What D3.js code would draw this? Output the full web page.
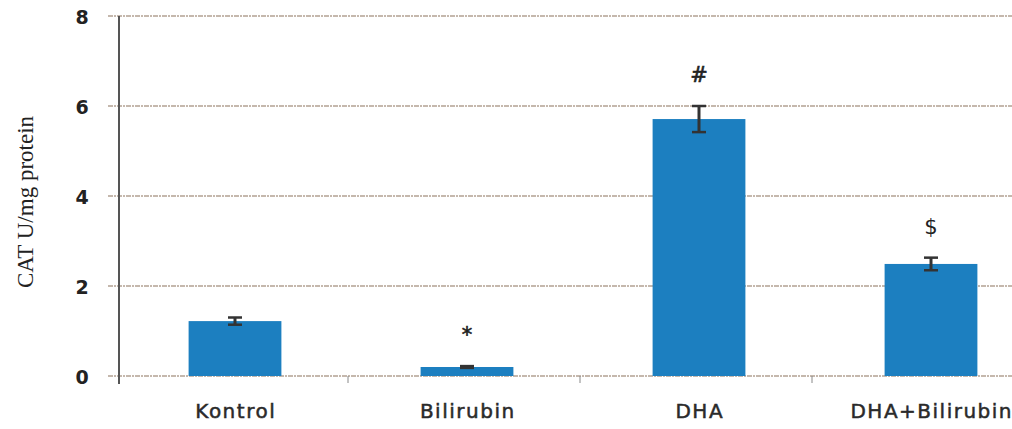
<!DOCTYPE html>
<html>
<head>
<meta charset="utf-8">
<script src="https://cdn.jsdelivr.net/npm/d3@7"></script>
<style>
  body { margin: 0; background: #fff; }
  svg { display: block; }
</style>
</head>
<body>
<svg id="chart" width="1012" height="429"></svg>
<script>
// values
const categories = ["Kontrol", "Bilirubin", "DHA", "DHA+Bilirubin"]
const means = [1.22, 0.2, 5.71, 2.49]
const errors = [0.08, 0.02, 0.29, 0.14]
const marks = ["", "*", "#", "$"]
const yTicks = [0, 2, 4, 6, 8]

const svg = d3.select("#chart")
const plotLeft = 119, plotTop = 16, plotBottom = 376
const step = 232

const x = d3.scaleBand()
    .domain(categories)
    .range([plotLeft, plotLeft + step * categories.length])
    .paddingInner(0.6)
    .paddingOuter(0.3)

const y = d3.scaleLinear().domain([0, 8]).range([plotBottom, plotTop])

// horizontal gridlines
svg.append("g")
    .selectAll("line")
    .data(yTicks)
    .join("line")
    .attr("x1", plotLeft - 11)
    .attr("x2", 1012)
    .attr("y1", d => y(d))
    .attr("y2", d => y(d))
    .attr("stroke", "#b3a193")
    .attr("stroke-width", 1.3)
    .attr("stroke-dasharray", "5,1,2,1")

// y tick labels
svg.append("g")
    .selectAll("text")
    .data(yTicks)
    .join("text")
    .attr("x", 82)
    .attr("y", d => y(d) + 8)
    .attr("text-anchor", "middle")
    .style("font-family", "'DejaVu Sans', sans-serif")
    .style("font-weight", "bold")
    .style("font-size", "19px")
    .style("fill", "#222")
    .text(d => d)

// y axis line
svg.append("line")
    .attr("x1", plotLeft).attr("x2", plotLeft)
    .attr("y1", plotTop).attr("y2", plotBottom + 8)
    .attr("stroke", "#555")
    .attr("stroke-width", 2)

// small ticks between categories on the x axis
svg.append("g")
    .selectAll("line")
    .data(categories.slice(1))
    .join("line")
    .attr("x1", d => x(d) - x.step() * x.paddingInner() / 2 - 3)
    .attr("x2", d => x(d) - x.step() * x.paddingInner() / 2 - 3)
    .attr("y1", plotBottom)
    .attr("y2", plotBottom + 7)
    .attr("stroke", "#888")
    .attr("stroke-width", 1)

// bars
svg.append("g")
    .selectAll("rect")
    .data(categories)
    .join("rect")
    .attr("x", d => x(d))
    .attr("width", x.bandwidth())
    .attr("y", (d, i) => y(means[i]))
    .attr("height", (d, i) => y(0) - y(means[i]))
    .attr("fill", "#1c7fc0")

// error bars
const eb = svg.append("g")
    .selectAll("g")
    .data(categories)
    .join("g")
    .attr("transform", d => "translate(" + (x(d) + x.bandwidth() / 2) + ",0)")
eb.append("line")
    .attr("y1", (d, i) => y(means[i] + errors[i]))
    .attr("y2", (d, i) => y(means[i] - errors[i]))
    .attr("stroke", "#333").attr("stroke-width", 3)
eb.append("line")
    .attr("x1", -7).attr("x2", 7)
    .attr("y1", (d, i) => y(means[i] + errors[i]))
    .attr("y2", (d, i) => y(means[i] + errors[i]))
    .attr("stroke", "#333").attr("stroke-width", 2.5)
eb.append("line")
    .attr("x1", -7).attr("x2", 7)
    .attr("y1", (d, i) => y(means[i] - errors[i]))
    .attr("y2", (d, i) => y(means[i] - errors[i]))
    .attr("stroke", "#333").attr("stroke-width", 2.5)

// significance marks above bars
svg.append("g")
    .selectAll("text")
    .data(categories)
    .join("text")
    .attr("x", d => x(d) + x.bandwidth() / 2)
    .attr("y", (d, i) => y(means[i] + errors[i]) - 24)
    .attr("text-anchor", "middle")
    .style("font-family", "'DejaVu Sans', sans-serif")
    .style("font-size", "21px")
    .style("fill", "#222")
    .style("stroke", (d, i) => marks[i] == "$" ? "none" : "#222")
    .style("stroke-width", "0.6px")
    .text((d, i) => marks[i])

// category labels
svg.append("g")
    .selectAll("text")
    .data(categories)
    .join("text")
    .attr("x", d => x(d) + x.bandwidth() / 2 + 0.75)
    .attr("y", 418)
    .attr("text-anchor", "middle")
    .style("font-family", "'DejaVu Sans', sans-serif")
    .style("font-size", "20px")
    .style("letter-spacing", "1.5px")
    .style("fill", "#2a2a2a")
    .style("stroke", "#2a2a2a")
    .style("stroke-width", "0.5px")
    .text(d => d)

// y axis title
svg.append("text")
    .attr("transform", "translate(33,202) rotate(-90)")
    .attr("text-anchor", "middle")
    .style("font-family", "'Liberation Serif', 'Times New Roman', serif")
    .style("font-size", "23px")
    .style("fill", "#222")
    .text("CAT U/mg protein")
</script>
</body>
</html>
